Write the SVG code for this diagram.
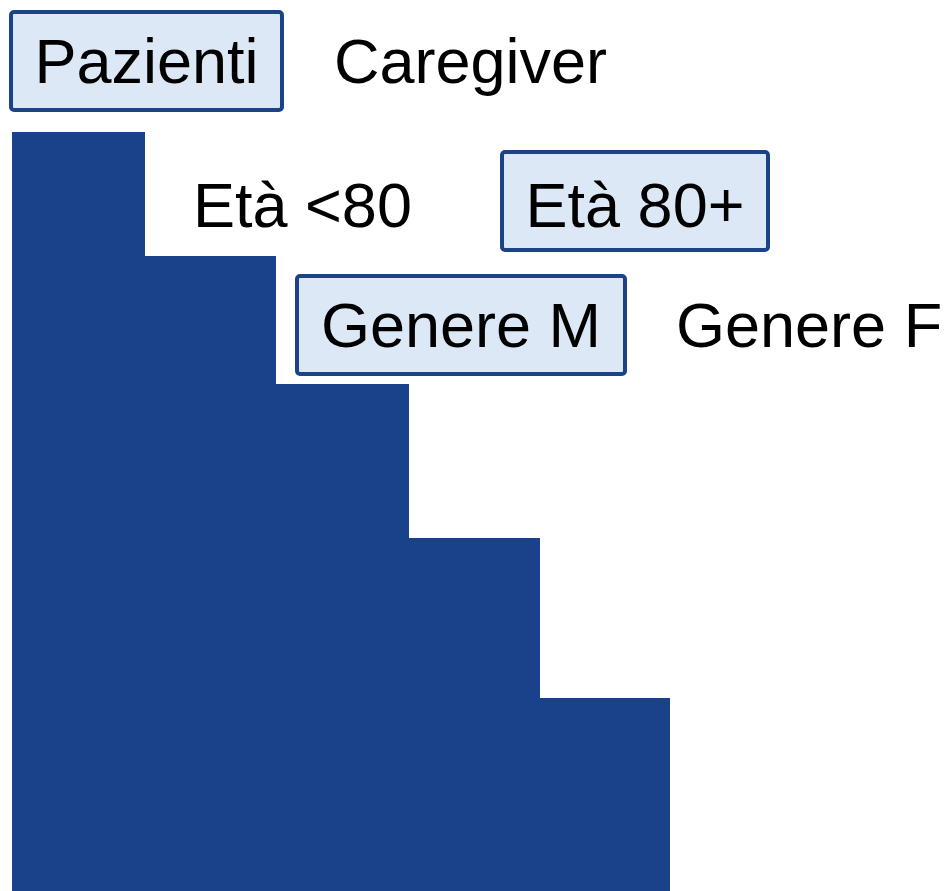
<svg xmlns="http://www.w3.org/2000/svg" width="948" height="891" viewBox="0 0 948 891">
<style>
.box{fill:#DCE8F5;stroke:#1C4388;stroke-width:4}
.t{font-family:"Liberation Sans",Arial,sans-serif;font-size:63px;fill:#000}
.m{text-anchor:middle}
</style>
<rect width="948" height="891" fill="#fff"/>
<g id="stairs">
<path d="M12 132H145V256H276V384H409V538H540V698H670V891H12Z" fill="#1A428A"/>
</g>
<g id="pazienti">
<rect class="box" x="11" y="12" width="271" height="98" rx="3"/>
<text class="t m" x="146.5" y="83">Pazienti</text>
</g>
<g id="caregiver">
<text class="t" x="334" y="83">Caregiver</text>
</g>
<g id="eta80">
<text class="t" x="193" y="227">Età &lt;80</text>
</g>
<g id="eta80plus">
<rect class="box" x="502" y="152" width="266" height="98" rx="3"/>
<text class="t m" x="635" y="227">Età 80+</text>
</g>
<g id="genereM">
<rect class="box" x="297" y="276" width="328" height="98" rx="3"/>
<text class="t m" x="461" y="347">Genere M</text>
</g>
<g id="genereF">
<text class="t" x="676" y="347">Genere F</text>
</g>
<g id="connectors"/>
</svg>
